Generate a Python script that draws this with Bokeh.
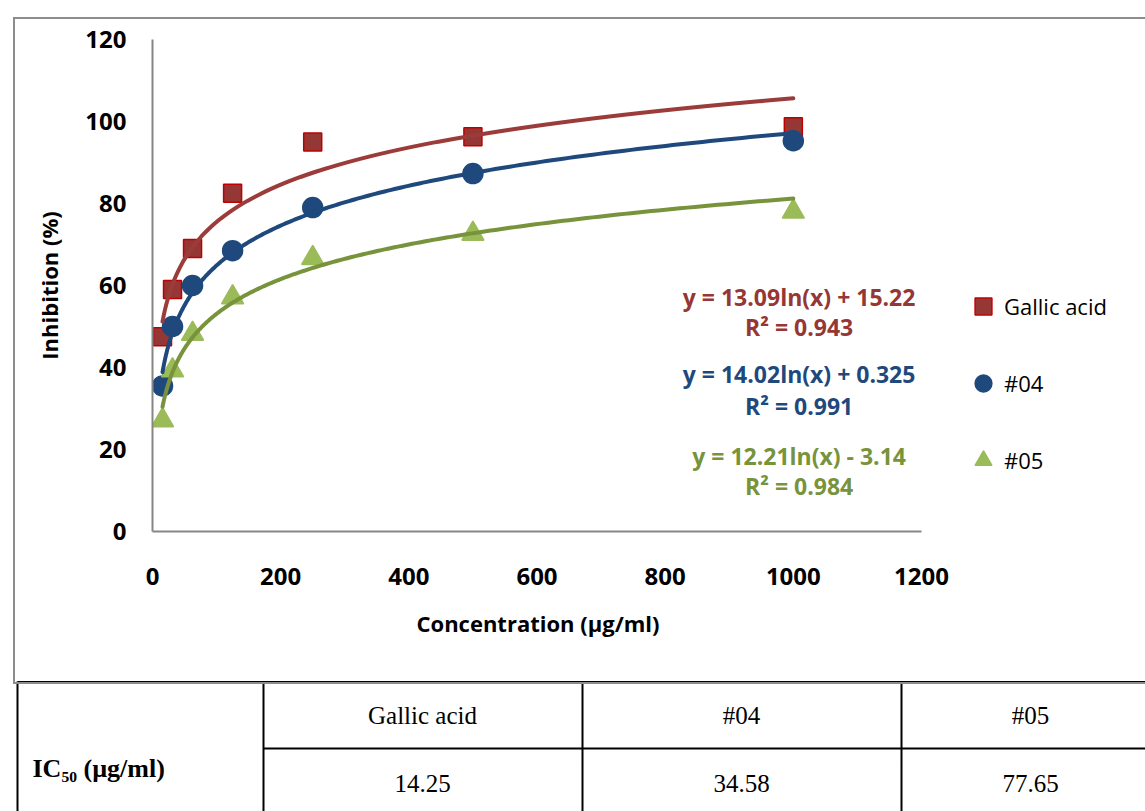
import numpy as np
from bokeh.plotting import figure
from bokeh.models import (Range1d, FixedTicker, Legend, LegendItem, Label, Div, Title)
from bokeh.embed import file_html
from bokeh.resources import INLINE
from bokeh.core.properties import value

# ---------------- data ----------------
concentration = [15.625, 31.25, 62.5, 125, 250, 500, 1000]
gallic_acid = [47.5, 59.0, 69.0, 82.5, 95.0, 96.3, 98.7]
sample_04 = [35.5, 50.0, 60.0, 68.5, 79.0, 87.3, 95.3]
sample_05 = [27.1, 39.3, 48.2, 57.1, 66.7, 72.6, 78.0]
series_names = ["Gallic acid", "#04", "#05"]

fit_slopes = [13.09, 14.02, 12.21]
fit_intercepts = [15.22, 0.325, -3.14]
fit_equations = ["y = 13.09ln(x) + 15.22", "y = 14.02ln(x) + 0.325", "y = 12.21ln(x) - 3.14"]
fit_r2 = ["R\u00b2 = 0.943", "R\u00b2 = 0.991", "R\u00b2 = 0.984"]

x_ticks = [0, 200, 400, 600, 800, 1000, 1200]
y_ticks = [0, 20, 40, 60, 80, 100, 120]

x_title = "Concentration (\u00b5g/ml)"
y_title = "Inhibition (%)"

ic50_label = "IC\u2085\u2080 (\u00b5g/ml)"
table_headers = ["Gallic acid", "#04", "#05"]
ic50_values = ["14.25", "34.58", "77.65"]

# ---------------- styles ----------------
marker_fill = ["#953735", "#1F497D", "#9BBB59"]
marker_line = ["#C00000", "#1F497D", "#9BBB59"]
marker_kind = ["square", "circle", "triangle"]
marker_size = [18, 20, 22]
fit_colors = ["#9B3C3A", "#1F497D", "#77933C"]
eq_colors = ["#953735", "#1F497D", "#77933C"]
FONT = "Open Sans"
W = 1145

# plot area: axis 0..1200 occupies px 152..921; frame continues to the page edge
AX_LEFT, AX_RIGHT = 152, 921
x_max = x_ticks[-1]
x_end = x_max * (W - AX_LEFT) / (AX_RIGHT - AX_LEFT)

p = figure(width=W, height=680, x_range=Range1d(0, x_end), y_range=Range1d(0, 120),
           output_backend="svg", toolbar_location=None,
           min_border_left=AX_LEFT, min_border_right=0, min_border_top=39,
           min_border_bottom=149)
p.outline_line_color = None
p.xgrid.visible = False
p.ygrid.visible = False
p.xaxis.bounds = (0, x_max)

for ax, ticks in ((p.xaxis, x_ticks), (p.yaxis, y_ticks)):
    ax.ticker = FixedTicker(ticks=ticks)
    ax.major_tick_line_color = None
    ax.minor_tick_line_color = None
    ax.major_tick_out = 0
    ax.major_tick_in = 0
    ax.axis_line_color = "#868686"
    ax.axis_line_width = 2
    ax.major_label_text_font = FONT
    ax.major_label_text_font_style = "bold"
    ax.major_label_text_font_size = "24px"
    ax.major_label_text_color = "black"
    ax.axis_label_text_font = FONT
    ax.axis_label_text_font_style = "bold"
    ax.axis_label_text_font_size = "22px"
    ax.axis_label_text_color = "black"

p.yaxis.axis_label = y_title
p.xaxis.major_label_standoff = 36
p.yaxis.major_label_standoff = 26
p.yaxis.axis_label_standoff = 18

# x-axis title, placed under the 0..1200 axis (the frame extends further right)
p.add_layout(Title(text=x_title, align="left", offset=264,
                   text_font=FONT, text_font_style="bold", text_font_size="22px",
                   text_color="black", standoff=37), "below")

series = [gallic_acid, sample_04, sample_05]
renderers = []
for i, ys in enumerate(series):
    r = p.scatter(concentration, ys, marker=marker_kind[i], size=marker_size[i],
                  fill_color=marker_fill[i], line_color=marker_line[i], line_width=1.5)
    renderers.append(r)

xs = np.geomspace(concentration[0], concentration[-1], 300)
for i in range(3):
    p.line(xs, fit_slopes[i] * np.log(xs) + fit_intercepts[i],
           line_width=4, line_color=fit_colors[i], line_cap="round")

legend = Legend(items=[LegendItem(label=series_names[i], renderers=[renderers[i]]) for i in range(3)],
                location=(810, 40), glyph_width=42, glyph_height=62, label_standoff=-14,
                spacing=15, padding=0, margin=0, border_line_color=None,
                background_fill_alpha=0, label_text_font=FONT,
                label_text_font_size="22px", label_text_color="black")
p.add_layout(legend)

eq_y = [57.1, 38.3, 18.5]
r2_y = [49.8, 30.7, 11.2]
for i in range(3):
    for txt, yy in ((fit_equations[i], eq_y[i]), (fit_r2[i], r2_y[i])):
        p.add_layout(Label(x=1009, y=yy, text=txt, text_align="center",
                           text_baseline="middle", text_font=FONT,
                           text_font_style="bold", text_font_size="23px",
                           text_color=eq_colors[i]))

# ---------------- table ----------------
t = figure(width=W, height=131, x_range=Range1d(0, W), y_range=Range1d(811, 680),
           output_backend="svg", toolbar_location=None, min_border=0,
           x_axis_type=None, y_axis_type=None)
t.outline_line_color = None
t.xgrid.visible = False
t.ygrid.visible = False

col_lines = [17, 263, 582, 901]
t.segment(x0=[17, 263], y0=[681.5, 748], x1=[W, W], y1=[681.5, 748],
          line_color="black", line_width=2)
t.segment(x0=col_lines, y0=[681] * 4, x1=col_lines, y1=[811] * 4,
          line_color="black", line_width=2)

col_centers = [422, 741, 1030]
t.text(x=col_centers, y=[715] * 3, text=table_headers, text_align="center",
       text_baseline="middle", text_font=value("Liberation Serif"),
       text_font_size="25px", text_color="black")
t.text(x=col_centers, y=[783] * 3, text=ic50_values, text_align="center",
       text_baseline="middle", text_font=value("Liberation Serif"),
       text_font_size="25px", text_color="black")
t.text(x=[32], y=[768], text=[ic50_label], text_align="left",
       text_baseline="middle", text_font=value("Liberation Serif"),
       text_font_style="bold", text_font_size="26px", text_color="black")

# outer chart border (left, top, bottom edges)
frame_box = Div(text="", width=1137, height=667,
                styles={"position": "absolute", "left": "8px", "top": "12px",
                        "border-left": "2px solid #8C8C8C",
                        "border-top": "2px solid #8C8C8C",
                        "border-bottom": "2px solid #8C8C8C",
                        "box-sizing": "border-box",
                        "z-index": "10", "pointer-events": "none"})

open("out.html", "w").write(file_html([p, t, frame_box], INLINE))
